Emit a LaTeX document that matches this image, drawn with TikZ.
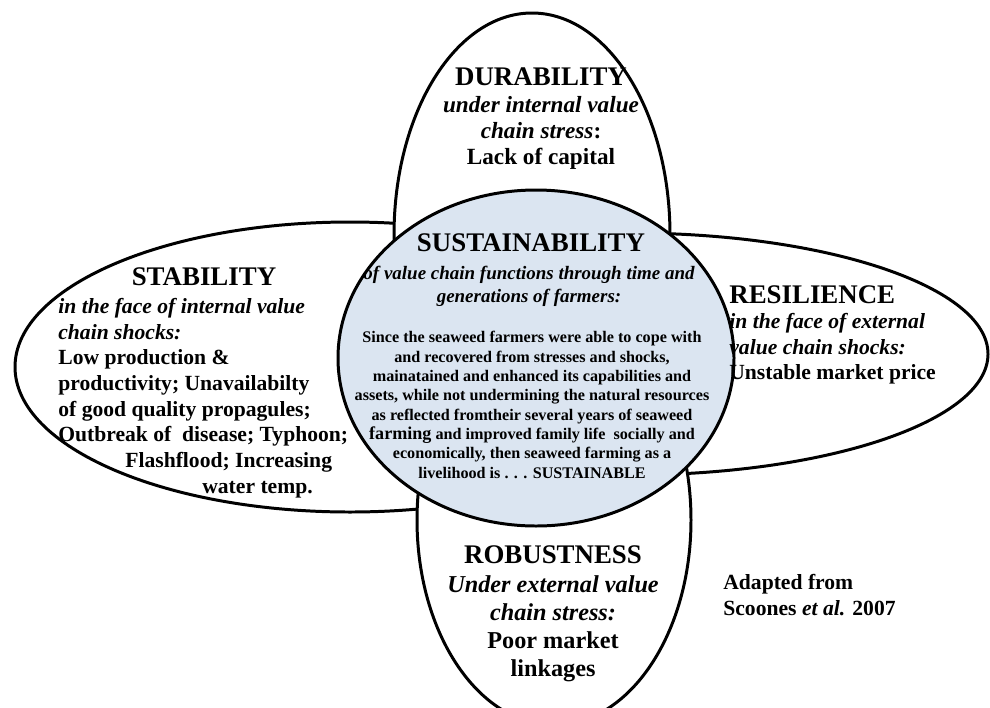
\documentclass[tikz,border=0pt]{standalone}
\usepackage{fontspec}
\setmainfont{Liberation Serif}
\definecolor{sustfill}{RGB}{219,229,241}
\begin{document}
\begin{tikzpicture}[x=0.02cm,y=-0.02cm,line join=round,
  ring/.style={draw=black,line width=1.7pt,fill=white},
  head/.style={font=\fontsize{15.3}{17}\selectfont\bfseries,inner sep=0pt},
  body/.style={font=\fontsize{12.3}{14.6}\selectfont\bfseries,inner sep=0pt},
  topbody/.style={font=\fontsize{13.2}{14.6}\selectfont\bfseries,inner sep=0pt},
  botbody/.style={font=\fontsize{13.8}{16}\selectfont\bfseries,inner sep=0pt},
  subit/.style={font=\fontsize{10.8}{13.2}\selectfont\bfseries\itshape,inner sep=0pt},
  small/.style={font=\fontsize{9.2}{11}\selectfont\bfseries,inner sep=0pt}]
  \useasboundingbox (0,0) rectangle (990,707);
  \clip (0,0) rectangle (990,707);
  % outer rings
  \path[ring] (630,354) ellipse [x radius=358, y radius=121]; % resilience
  \path[ring] (350,367) ellipse [x radius=335, y radius=145]; % stability
  \path[ring] (532,235) ellipse [x radius=138, y radius=222]; % durability
  \path[ring] (554,520) ellipse [x radius=137, y radius=205]; % robustness
  % centre
  \path[ring,fill=sustfill] (536,358) ellipse [x radius=198, y radius=168];
  % durability
  \node[head] (durhead) at (541,77) {DURABILITY};
  \node[topbody,align=center] (durtext) at (541,133) {\textit{under internal value}\\ \textit{chain stress}:\\ Lack of capital};
  % stability
  \node[head] (stabhead) at (204,277) {STABILITY};
  \node[body,align=left,anchor=west] (stabtext) at (58,398) {\textit{in the face of internal value}\\ \textit{chain shocks:}\\ Low production \&\\ productivity; Unavailabilty\\ of good quality propagules;\\ Outbreak of~ disease; Typhoon;\\ \hspace*{1.34cm}Flashflood; Increasing\\ \hspace*{2.88cm}water temp.};
  % resilience
  \node[head,anchor=west] (reshead) at (729,295) {RESILIENCE};
  \node[body,align=left,anchor=west] (restext) at (729,349) {\textit{in the face of external}\\ \textit{value chain shocks:}\\ Unstable market price};
  % sustainability
  \node[head] (susthead) at (531,243) {SUSTAINABILITY};
  \node[subit,align=center] (sustsub) at (529,286.5) {of value chain functions through time and\\ generations of farmers:};
  \node[small,align=center] (susttext) at (532,405) {Since the seaweed farmers were able to cope with\\ and recovered from stresses and shocks,\\ mainatained and enhanced its capabilities and\\ assets, while not undermining the natural resources\\ as reflected fromtheir several years of seaweed\\ {\fontsize{10.3}{11}\selectfont farming} and improved family life~ socially and\\ economically, then seaweed farming as a\\ livelihood is . . . SUSTAINABLE};
  % robustness
  \node[head] (robhead) at (553,555) {ROBUSTNESS};
  \node[botbody,align=center] (robtext) at (553,628.5) {\textit{Under external value}\\ \textit{chain stress:}\\ Poor market\\ linkages};
  % source
  \node[body,align=left,anchor=west] (adapted) at (723,595) {Adapted from\\ Scoones \textit{et al.} 2007};
\end{tikzpicture}
\end{document}
